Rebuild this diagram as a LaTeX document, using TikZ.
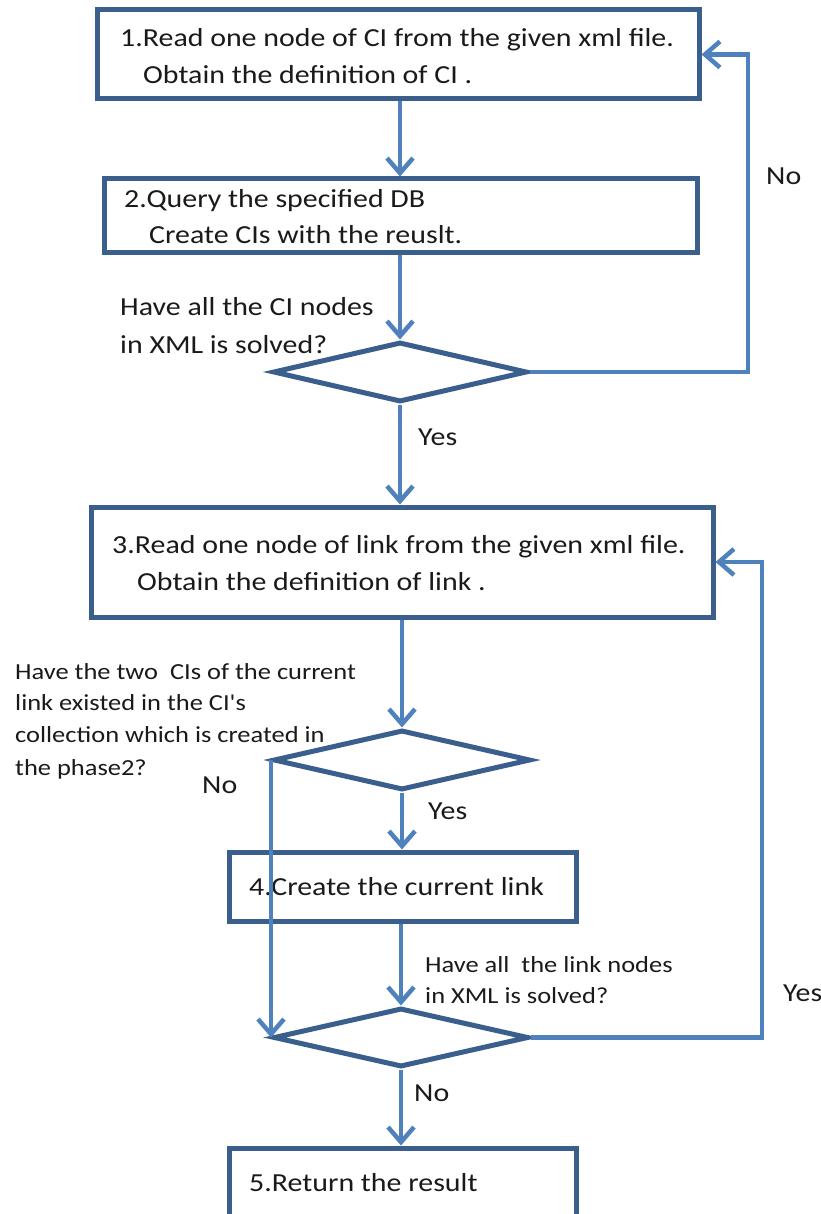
\documentclass[tikz,border=0pt]{standalone}
\usepackage{fontspec}
\setmainfont{Carlito}
\newfontfamily\widefont[FakeStretch=1.15]{Carlito}
\usetikzlibrary{arrows.meta,shapes.geometric}
\definecolor{boxc}{HTML}{3A5F8C}
\definecolor{arrc}{HTML}{4F81BD}
\definecolor{txtc}{HTML}{1A1A1A}
\begin{document}
\begin{tikzpicture}[x=1pt,y=-1pt,
  box/.style={draw=boxc,line width=5pt,fill=white,rectangle,inner sep=0pt},
  dia/.style={draw=boxc,line width=5pt,diamond,inner sep=0pt},
  conn/.style={draw=arrc,line width=4.5pt,-{Straight Barb[length=15pt,width=26pt,line width=4.5pt]}},
  lab/.style={anchor=base west,inner sep=0pt,text=txtc,font=\widefont\fontsize{26}{30}\selectfont},
  sml/.style={anchor=base west,inner sep=0pt,text=txtc,font=\widefont\fontsize{23}{27}\selectfont}]
\useasboundingbox (0,0) rectangle (820,1214);
\clip (0,0) rectangle (820,1214);
% boxes
\node[box,minimum width=602pt,minimum height=89pt] (b1) at (398,54.5) {};
\node[box,minimum width=593pt,minimum height=74pt] (b2) at (400.5,216) {};
\node[box,minimum width=622pt,minimum height=110pt] (b3) at (402,562) {};
\node[box,minimum width=347pt,minimum height=69pt] (b4) at (402.5,886.5) {};
\node[box,minimum width=347pt,minimum height=110pt] (b5) at (402.5,1203) {};
% diamonds
\node[dia,minimum width=254pt,minimum height=60pt] (d1) at (400,372) {};
\node[dia,minimum width=257pt,minimum height=60pt] (d2) at (402,760) {};
\node[dia,minimum width=255pt,minimum height=59pt] (d3) at (401,1037.5) {};
% texts
\node[lab] (t1a) at (120,47) {1.Read one node of CI from the given xml file.};
\node[lab] (t1b) at (143,84) {Obtain the definition of CI .};
\node[lab] (t2a) at (124,208) {2.Query the specified DB};
\node[lab] (t2b) at (149,244) {Create CIs with the reuslt.};
\node[lab] (q1a) at (120,316) {Have all the CI nodes};
\node[lab] (q1b) at (120,353) {in XML is solved?};
\node[lab] (no1) at (766,185) {No};
\node[lab] (yes1) at (418,445) {Yes};
\node[lab] (t3a) at (112,553) {3.Read one node of link from the given xml file.};
\node[lab] (t3b) at (137,590) {Obtain the definition of link .};
\node[sml] (q2a) at (15,679) {Have the two\ \ CIs of the current};
\node[sml] (q2b) at (15,710) {link existed in the CI's};
\node[sml] (q2c) at (15,742) {collection which is created in};
\node[sml] (q2d) at (15,775) {the phase2?};
\node[lab] (no2) at (202,793) {No};
\node[lab] (yes2) at (428,819) {Yes};
\node[lab] (t4) at (249,895) {4.Create the current link};
\node[sml] (q3a) at (425,972) {Have all\ \ the link nodes};
\node[sml] (q3b) at (425,1003) {in XML is solved?};
\node[lab] (yes3) at (783,1001) {Yes};
\node[lab] (no3) at (414,1101) {No};
\node[lab] (t5) at (249,1191) {5.Return the result};
% connectors
\coordinate (r1) at (748,0);
\coordinate (r2) at (762,0);
\draw[conn] (b1.south -| d1.north) -- (b2.north -| d1.north);
\draw[conn] (b2.south -| d1.north) -- (d1.north);
\draw[conn] (d1.east) -| (r1 |- b1.east) -- (b1.east);
\draw[conn] (d1.south) -- (b3.north -| d1.south);
\draw[conn] (b3.south -| d2.north) -- (d2.north);
\draw[conn] (d2.south) -- (b4.north -| d2.south);
\draw[conn] (b4.south -| d3.north) -- (d3.north);
\draw[conn] (d2.west) -- (d3.west);
\draw[conn] (d3.east) -| (r2 |- b3.east) -- (b3.east);
\draw[conn] (d3.south) -- (b5.north -| d3.south);
\end{tikzpicture}
\end{document}
